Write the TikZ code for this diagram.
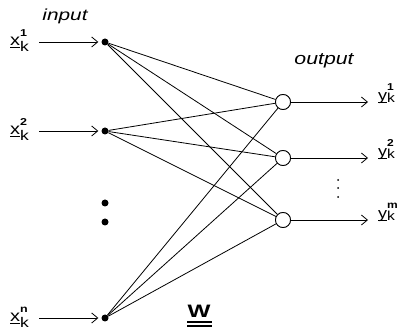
\documentclass[tikz,border=0pt]{standalone}
\usepackage{fontspec}
\setmainfont{Liberation Sans}
\usetikzlibrary{arrows.meta}
\newcommand\baseul[1]{\sbox0{#1}\rlap{\rule[-1.8pt]{\wd0}{1pt}}\usebox0}
\newcommand\inlab[2]{\scalebox{1.25}[1]{\fontsize{16}{16}\selectfont\baseul{x}\rlap{\raisebox{9pt}{\fontsize{10}{10}\selectfont\bfseries #2}}\raisebox{-6pt}{\fontsize{14}{14}\selectfont k}}}
\newcommand\outlab[2]{\scalebox{1.2}[1]{\fontsize{15}{15}\selectfont\baseul{y}\rlap{\raisebox{10pt}{\fontsize{10}{10}\selectfont\bfseries #2}}\raisebox{-2pt}{\fontsize{13}{13}\selectfont k}}}
\begin{document}
\begin{tikzpicture}[x=1pt,y=-1pt,
  wire/.style={line width=0.8pt},
  arr/.style={line width=0.8pt,-{Straight Barb[length=6pt,width=10pt,line width=0.8pt]}},
  indot/.style={circle,fill=black,inner sep=0pt,minimum size=7pt},
  neuron/.style={circle,draw,line width=0.8pt,fill=white,inner sep=0pt,minimum size=15pt},
  smalldot/.style={circle,fill=black,inner sep=0pt,minimum size=2pt},
  lab/.style={inner sep=0pt}]
\useasboundingbox (0,0) rectangle (404,336);
% input nodes
\node[indot] (i1) at (105,42) {};
\node[indot] (i2) at (105,131) {};
\node[indot] (i3) at (105,318) {};
\node[indot] (d1) at (105,203) {};
\node[indot] (d2) at (105,222) {};
% output neurons
\node[neuron] (o1) at (283,102) {};
\node[neuron] (o2) at (283,158) {};
\node[neuron] (o3) at (283,220) {};
% connections
\foreach \i in {i1,i2,i3}{
  \foreach \o in {o1,o2,o3}{
    \draw[wire] (\i) -- (\o);
  }
}
% redraw neurons on top
\node[neuron] at (o1) {};
\node[neuron] at (o2) {};
\node[neuron] at (o3) {};
% input arrows
\coordinate (s1) at (39,42);
\coordinate (s2) at (39,131);
\coordinate (s3) at (39,318);
\draw[arr,shorten >=3pt] (s1) -- (i1);
\draw[arr,shorten >=3pt] (s2) -- (i2);
\draw[arr,shorten >=3pt] (s3) -- (i3);
% output arrows
\coordinate (t1) at (368,102);
\coordinate (t2) at (368,158);
\coordinate (t3) at (368,220);
\draw[arr] (o1) -- (t1);
\draw[arr] (o2) -- (t2);
\draw[arr] (o3) -- (t3);
% labels
\node[lab,anchor=base west] (x1) at (10,46) {\inlab{x}{1}};
\node[lab,anchor=base west] (x2) at (10,135) {\inlab{x}{2}};
\node[lab,anchor=base west] (x3) at (10,322) {\inlab{x}{n}};
\node[lab,anchor=base west] (y1) at (378,101) {\outlab{y}{1}};
\node[lab,anchor=base west] (y2) at (378,157) {\outlab{y}{2}};
\node[lab,anchor=base west] (y3) at (378,219) {\outlab{y}{m}};
\node[lab] (inp) at (65,16) {\scalebox{1.3}[1]{\fontsize{16}{16}\selectfont\itshape input}};
\node[lab] (outp) at (324,61) {\scalebox{1.25}[1]{\fontsize{17}{17}\selectfont\itshape output}};
% right vertical dots
\node[smalldot] (r1) at (338,180) {};
\node[smalldot] (r2) at (338,188) {};
\node[smalldot] (r3) at (338,197) {};
% W
\node[lab,anchor=base] (W) at (199,318) {\scalebox{1.35}[1]{\fontsize{18}{18}\selectfont\bfseries W}};
\fill (W.south west) ++(0,3) rectangle ++(25,2);
\fill (W.south west) ++(0,7) rectangle ++(25,2);
\end{tikzpicture}
\end{document}
